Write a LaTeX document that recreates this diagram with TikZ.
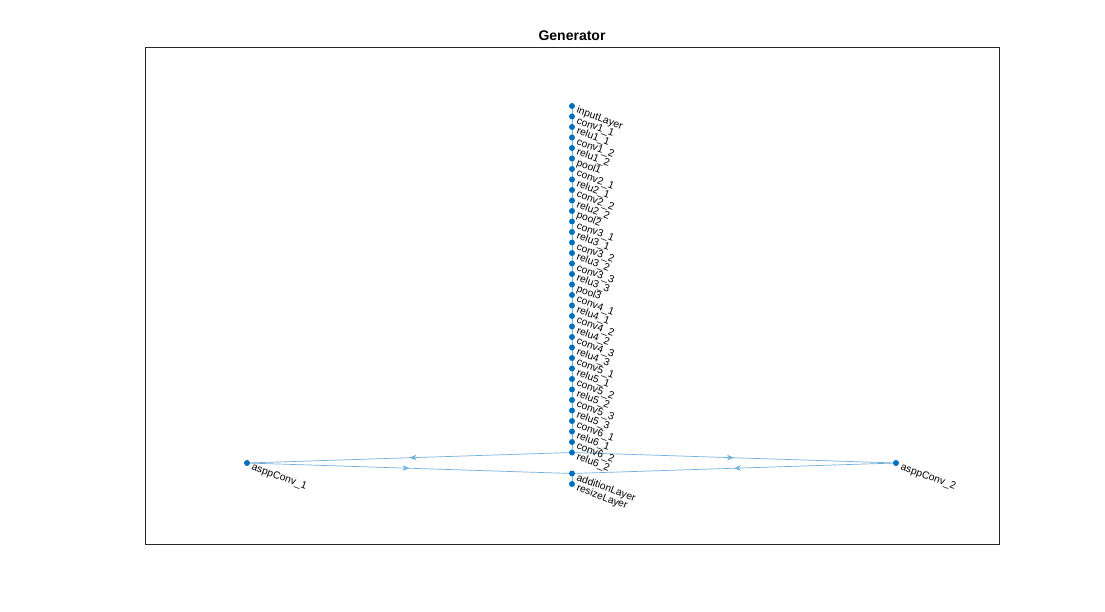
\documentclass[tikz,border=0pt]{standalone}
\usepackage{fontspec}
\setmainfont{Liberation Sans}
\usetikzlibrary{arrows.meta, decorations.markings, backgrounds}
\definecolor{mlblue}{rgb}{0,0.447,0.741}
\tikzset{
    layer/.style={circle, fill=mlblue, inner sep=0pt, minimum size=6pt},
    lname/.style={font=\fontsize{10.3}{12}\selectfont, rotate=-20, anchor=north west, inner sep=0pt, text height=7.5pt, text depth=2pt},
    flow/.style={draw=mlblue!55, line width=0.7pt},
    flowarr/.style={flow, postaction={decorate}, decoration={markings, mark=at position 0.5 with {\arrow{Stealth[length=7pt,width=5.5pt]}}}},
    axesbox/.style={draw=black!85, line width=0.7pt, minimum width=854pt, minimum height=497pt, inner sep=0pt},
}

\begin{document}
\begin{tikzpicture}[x=1pt, y=-1pt]
    \useasboundingbox (0,0) rectangle (1105,612);
    \node[axesbox] (axes) at (572,295.5) {};
    \node[font=\bfseries\fontsize{14}{16}\selectfont] (title) at (572,35.5) {Generator};
    % main chain
    \foreach \lay [count=\i] in {inputLayer, conv1\_1, relu1\_1, conv1\_2, relu1\_2, pool1,
        conv2\_1, relu2\_1, conv2\_2, relu2\_2, pool2,
        conv3\_1, relu3\_1, conv3\_2, relu3\_2, conv3\_3, relu3\_3, pool3,
        conv4\_1, relu4\_1, conv4\_2, relu4\_2, conv4\_3, relu4\_3,
        conv5\_1, relu5\_1, conv5\_2, relu5\_2, conv5\_3, relu5\_3,
        conv6\_1, relu6\_1, conv6\_2, relu6\_2} {
        \node[layer] (n\i) at (572,{106+(\i-1)*10.5}) {};
        \node[lname] (t\i) at ([shift={(6.5,-0.5)}]n\i.center) {\lay};
    }
    \node[layer] (aspp1)  at (247,463)   {};
    \node[layer] (aspp2)  at (896,463)   {};
    \node[layer] (add)    at (572,473.5) {};
    \node[layer] (resize) at (572,484)   {};
    \node[lname] (taspp1)  at ([shift={(6.5,-0.5)}]aspp1.center)  {asppConv\_1};
    \node[lname] (taspp2)  at ([shift={(6.5,-0.5)}]aspp2.center)  {asppConv\_2};
    \node[lname] (tadd)    at ([shift={(6.5,-0.5)}]add.center)    {additionLayer};
    \node[lname] (tresize) at ([shift={(6.5,-0.5)}]resize.center) {resizeLayer};
    \begin{scope}[on background layer]
        \foreach \i [evaluate=\i as \j using int(\i+1)] in {1,...,33}
            \draw[flow] (n\i.center) -- (n\j.center);
        \draw[flowarr] (n34.center) -- (aspp1.center);
        \draw[flowarr] (aspp1.center) -- (add.center);
        \draw[flowarr] (n34.center) -- (aspp2.center);
        \draw[flowarr] (aspp2.center) -- (add.center);
        \draw[flow] (add.center) -- (resize.center);
    \end{scope}
\end{tikzpicture}
\end{document}
